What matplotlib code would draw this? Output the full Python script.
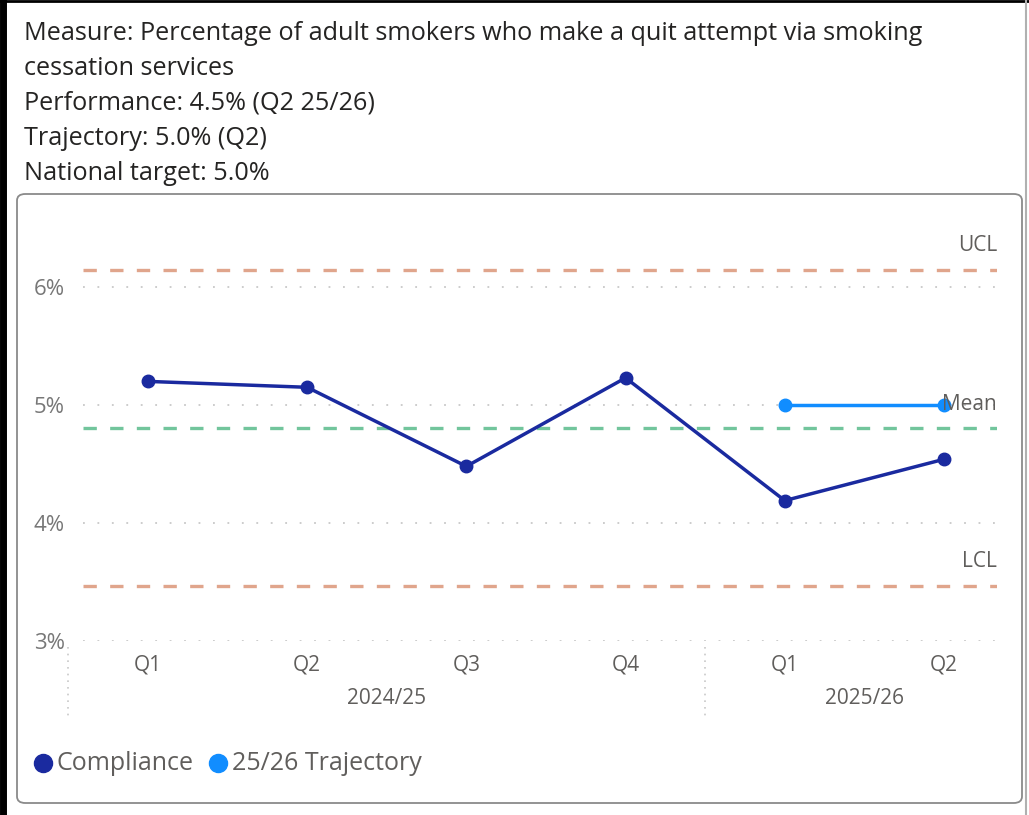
import matplotlib.pyplot as plt
from matplotlib.patches import FancyBboxPatch
from matplotlib.lines import Line2D
from matplotlib.ticker import FuncFormatter
import matplotlib.transforms as mtransforms

plt.rcParams["font.family"] = ["Open Sans", "DejaVu Sans"]

# data
quarters = ["Q1", "Q2", "Q3", "Q4", "Q1", "Q2"]
years = ["2024/25", "2025/26"]
year_centres = [1.5, 4.5]
compliance = [5.20, 5.15, 4.48, 5.23, 4.19, 4.54]
trajectory_x = [4, 5]
trajectory = [5.0, 5.0]
ucl = 6.145
mean = 4.805
lcl = 3.465

header = ["Measure: Percentage of adult smokers who make a quit attempt via smoking",
          "cessation services",
          "Performance: 4.5% (Q2 25/26)",
          "Trajectory: 5.0% (Q2)",
          "National target: 5.0%"]

W, H = 1029, 815
fig = plt.figure(figsize=(W / 100, H / 100), dpi=100)

# outer frame and card
fig.add_artist(Line2D([3 / W, 3 / W], [0, 1], color="black", lw=5))
fig.add_artist(Line2D([0, 1], [1 - 1 / H, 1 - 1 / H], color="black", lw=2))
fig.add_artist(Line2D([1026 / W, 1026 / W], [0, 1], color="#b0b0b0", lw=1.5))
card = FancyBboxPatch((17 / W, 1 - 803 / H), (1022 - 17) / W, (803 - 194) / H,
                      boxstyle="round,pad=0,rounding_size=0.008",
                      transform=fig.transFigure, fc="white", ec="#8a8a8a", lw=1.3,
                      zorder=-1)
fig.add_artist(card)

for i, line in enumerate(header):
    fig.text(24 / W, 1 - (33 + 35.2 * i) / H, line, fontsize=18.2,
             color="#252423", va="center", ha="left")

ax = fig.add_axes([83 / W, 1 - 641 / H, (997 - 83) / W, (641 - 228) / H])
ax.patch.set_visible(False)
xs = list(range(len(quarters)))

ax.axhline(ucl, color="#e0a58c", lw=2.4, ls=(0, (4, 4)))
ax.axhline(lcl, color="#e0a58c", lw=2.4, ls=(0, (4, 4)))
ax.axhline(mean, color="#72c59c", lw=2.4, ls=(0, (4, 4)))

ax.plot(xs, compliance, color="#1a2a9f", lw=2.5, marker="o", ms=9, zorder=4)
ax.plot(trajectory_x, trajectory, color="#118dff", lw=2.5, marker="o", ms=9, zorder=4)

lab = mtransforms.blended_transform_factory(ax.transAxes, ax.transData)
ax.text(1, ucl + 0.21, "UCL", transform=lab, ha="right", va="center",
        fontsize=15, color="#605e5c")
ax.text(1, mean + 0.195, "Mean", transform=lab, ha="right", va="center",
        fontsize=15, color="#605e5c", zorder=5)
ax.text(1, lcl + 0.21, "LCL", transform=lab, ha="right", va="center",
        fontsize=15, color="#605e5c")

ax.set_xlim(-0.408, 5.333)
ax.set_ylim(3, 6.5)
ax.set_yticks([3, 4, 5, 6])
ax.yaxis.set_major_formatter(FuncFormatter(lambda v, p: f"{v:.0f}%"))
ax.grid(axis="y", color="#c8c8c8", ls=(0, (1, 7)), lw=1.3)
ax.set_axisbelow(True)
for s in ax.spines.values():
    s.set_visible(False)
ax.tick_params(axis="y", length=0, pad=13, labelsize=16, labelcolor="#777777")
ax.set_xticks(xs)
ax.set_xticklabels(quarters)
ax.tick_params(axis="x", length=0, pad=10, labelsize=15, labelcolor="#605e5c")

trans = mtransforms.blended_transform_factory(ax.transData, ax.transAxes)
for yr, xc in zip(years, year_centres):
    ax.text(xc, -0.14, yr, transform=trans, ha="center", va="center",
            fontsize=15, color="#605e5c")
for xb in [-0.5, 3.5]:
    ax.plot([xb, xb], [-0.015, -0.19], transform=trans, clip_on=False,
            color="#c8c8c8", ls=(0, (1, 3)), lw=1.2)

# legend
leg_y = 1 - 763 / H
fig.add_artist(Line2D([43 / W], [leg_y], marker="o", ms=13, color="#1a2a9f", ls=""))
fig.text(57 / W, leg_y, "Compliance", fontsize=18, color="#605e5c", va="center")
fig.add_artist(Line2D([218 / W], [leg_y], marker="o", ms=13, color="#118dff", ls=""))
fig.text(232 / W, leg_y, "25/26 Trajectory", fontsize=18, color="#605e5c", va="center")

fig.savefig("out.png", dpi=100)
